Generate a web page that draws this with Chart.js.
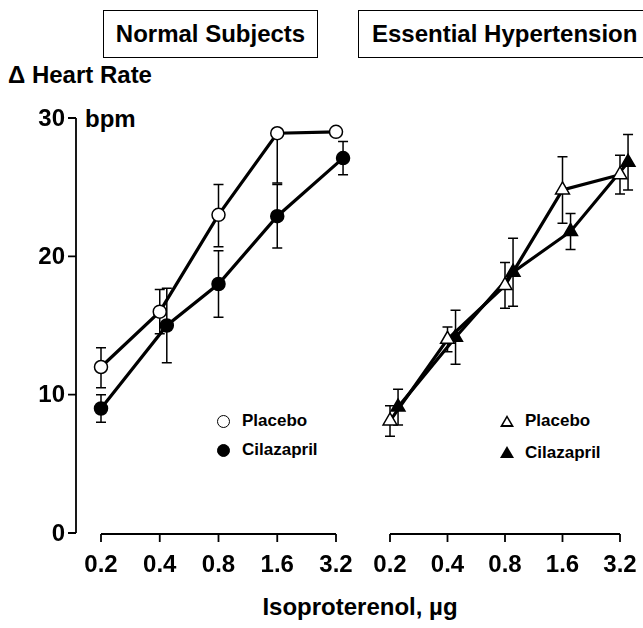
<!DOCTYPE html>
<html lang="en">
<head>
<meta charset="UTF-8">
<title>Heart Rate - Isoproterenol</title>
<script src="https://cdn.jsdelivr.net/npm/chart.js"></script>
<style>
    body {
        margin: 0;
        width: 643px;
        height: 628px;
        position: relative;
        overflow: hidden;
        background: #fff;
        color: #000;
        font-family: "Liberation Sans", Arial, sans-serif;
        font-weight: bold;
    }

    canvas {
        position: absolute;
        top: 0;
    }

    #normalChart { left: 0; }
    #hyperChart { left: 360px; }

    .txt {
        position: absolute;
        line-height: 1;
        white-space: nowrap;
    }

    .box {
        position: absolute;
        top: 10px;
        height: 46px;
        border: 1.5px solid #000;
        font-size: 24px;
        line-height: 46px;
        white-space: nowrap;
    }

    .sym {
        position: absolute;
        box-sizing: border-box;
    }
    .circle { width: 13px; height: 13px; border-radius: 50%; border: 1.5px solid #000; }
    .circle.filled { background: #000; }
    .tri { width: 0; height: 0; border-left: 7px solid transparent; border-right: 7px solid transparent; border-bottom: 12px solid #000; }
    .tri.open::after {
        content: ""; position: absolute; left: -4.5px; top: 3px;
        border-left: 4.5px solid transparent; border-right: 4.5px solid transparent; border-bottom: 7.5px solid #fff;
    }
</style>
</head>
<body>

<div class="box" style="left:103px; width:213px; text-align:center;">Normal Subjects</div>
<div class="box" style="left:358px; width:320px; padding-left:13px;">Essential Hypertension</div>

<div class="txt" style="left:8px; top:63px; font-size:24px;">&Delta; Heart Rate</div>
<div class="txt" style="left:85px; top:107px; font-size:24px;">bpm</div>
<div class="txt" style="left:0; width:720px; text-align:center; top:595px; font-size:24px;">Isoproterenol, µg</div>

<!-- legends -->
<div class="sym circle" style="left:217px; top:415px;"></div>
<div class="txt" style="left:242px; top:412px; font-size:17px;">Placebo</div>
<div class="sym circle filled" style="left:217px; top:444px;"></div>
<div class="txt" style="left:242px; top:441px; font-size:17px;">Cilazapril</div>

<div class="sym tri open" style="left:500px; top:415px;"></div>
<div class="txt" style="left:525px; top:412px; font-size:17px;">Placebo</div>
<div class="sym tri" style="left:500px; top:446px;"></div>
<div class="txt" style="left:525px; top:444px; font-size:17px;">Cilazapril</div>

<canvas id="normalChart" width="360" height="628"></canvas>
<canvas id="hyperChart" width="283" height="628"></canvas>

<script>
    // doses on the x axis, heart rate ticks on the y axis
    var doses = ['0.2', '0.4', '0.8', '1.6', '3.2'];
    var heartTicks = [0, 10, 20, 30];

    // Normal subjects (mean, error bars)
    var normalPlacebo = [12, 16, 23, 28.9, 29];
    var normalPlaceboLow = [1.5, 1.6, 2.3, 3.6, 0];
    var normalPlaceboHigh = [1.4, 1.6, 2.2, 0, 0];
    var normalCila = [9, 15, 18, 22.9, 27.1];
    var normalCilaErr = [1, 2.7, 2.4, 2.3, 1.2];

    // Essential hypertension
    var hyperPlacebo = [8.1, 14, 17.9, 24.8, 25.9];
    var hyperPlaceboErr = [1.1, 0.9, 1.65, 2.4, 1.4];
    var hyperCila = [9.1, 14.15, 18.85, 21.8, 26.8];
    var hyperCilaErr = [1.3, 1.95, 2.45, 1.3, 2];

    // small sideways shift so overlapping symbols stay visible
    var normalCilaShift = [0, 0.12, 0, 0, 0.12];
    var hyperCilaShift = [0.14, 0.14, 0.14, 0.14, 0.14];

    var FONT = 'bold 24px "Liberation Sans", Arial, sans-serif';

    function toPoints(values, shift) {
        return values.map(function (v, i) {
            return { x: i + (shift ? shift[i] : 0), y: v };
        });
    }

    // error bars + hand drawn axes using the chart scales
    var panelAxes = {
        id: 'panelAxes',
        beforeDatasetsDraw: function (chart) {
            var ctx = chart.ctx;
            var ys = chart.scales.y;
            ctx.save();
            ctx.strokeStyle = '#000';
            ctx.lineWidth = 1.5;
            chart.data.datasets.forEach(function (ds, di) {
                var meta = chart.getDatasetMeta(di);
                meta.data.forEach(function (pt, i) {
                    var v = ds.data[i].y;
                    var lo = ds.errLow[i], hi = ds.errHigh[i];
                    if (!lo && !hi) return;
                    var yTop = ys.getPixelForValue(v + hi);
                    var yBot = ys.getPixelForValue(v - lo);
                    ctx.beginPath();
                    ctx.moveTo(pt.x, yTop);
                    ctx.lineTo(pt.x, yBot);
                    if (hi) { ctx.moveTo(pt.x - 5, yTop); ctx.lineTo(pt.x + 5, yTop); }
                    if (lo) { ctx.moveTo(pt.x - 5, yBot); ctx.lineTo(pt.x + 5, yBot); }
                    ctx.stroke();
                });
            });
            ctx.restore();
        },
        afterDraw: function (chart, args, opts) {
            var ctx = chart.ctx;
            var xs = chart.scales.x, ys = chart.scales.y;
            var baseY = ys.getPixelForValue(0) + 1;
            ctx.save();
            ctx.strokeStyle = '#000';
            ctx.fillStyle = '#000';
            ctx.lineWidth = 1.8;

            // x axis
            ctx.beginPath();
            ctx.moveTo(xs.getPixelForValue(0), baseY);
            ctx.lineTo(xs.getPixelForValue(doses.length - 1), baseY);
            doses.forEach(function (d, i) {
                var px = xs.getPixelForValue(i);
                ctx.moveTo(px, baseY);
                ctx.lineTo(px, baseY + 8);
            });
            ctx.stroke();
            ctx.font = FONT;
            ctx.textAlign = 'center';
            ctx.textBaseline = 'middle';
            doses.forEach(function (d, i) {
                ctx.fillText(d, xs.getPixelForValue(i), baseY + 31);
            });

            // y axis only on the left panel
            if (opts.yAxisX) {
                var ax = opts.yAxisX;
                ctx.beginPath();
                ctx.moveTo(ax, ys.getPixelForValue(heartTicks[heartTicks.length - 1]));
                ctx.lineTo(ax, ys.getPixelForValue(0));
                heartTicks.forEach(function (t) {
                    var py = ys.getPixelForValue(t);
                    ctx.moveTo(ax - 8, py);
                    ctx.lineTo(ax, py);
                });
                ctx.stroke();
                ctx.textAlign = 'right';
                heartTicks.forEach(function (t) {
                    ctx.fillText(String(t), ax - 11, ys.getPixelForValue(t) + 1);
                });
            }
            ctx.restore();
        }
    };

    function panelConfig(datasets, padding, yAxisX) {
        return {
            type: 'line',
            data: { datasets: datasets },
            options: {
                responsive: false,
                animation: false,
                devicePixelRatio: 1,
                layout: { padding: padding },
                scales: {
                    x: { type: 'linear', min: 0, max: doses.length - 1, display: false },
                    y: { min: 0, max: 30, display: false }
                },
                plugins: {
                    legend: { display: false },
                    tooltip: { enabled: false },
                    panelAxes: { yAxisX: yAxisX }
                }
            },
            plugins: [panelAxes]
        };
    }

    function series(values, shift, lo, hi, style, radius, fill) {
        return {
            data: toPoints(values, shift),
            errLow: lo,
            errHigh: hi,
            borderColor: '#000',
            borderWidth: 3.2,
            pointStyle: style,
            pointRadius: radius,
            pointBorderWidth: 1.5,
            pointBorderColor: '#000',
            pointBackgroundColor: fill,
            clip: false,
            tension: 0
        };
    }

    new Chart(document.getElementById('normalChart'), panelConfig([
        series(normalPlacebo, null, normalPlaceboLow, normalPlaceboHigh, 'circle', 6.5, '#fff'),
        series(normalCila, normalCilaShift, normalCilaErr, normalCilaErr, 'circle', 6.5, '#000')
    ], { left: 101, right: 24, top: 118, bottom: 95 }, 76));

    new Chart(document.getElementById('hyperChart'), panelConfig([
        series(hyperPlacebo, null, hyperPlaceboErr, hyperPlaceboErr, 'triangle', 8, '#fff'),
        series(hyperCila, hyperCilaShift, hyperCilaErr, hyperCilaErr, 'triangle', 8, '#000')
    ], { left: 30, right: 23, top: 118, bottom: 95 }, 0));
</script>
</body>
</html>
